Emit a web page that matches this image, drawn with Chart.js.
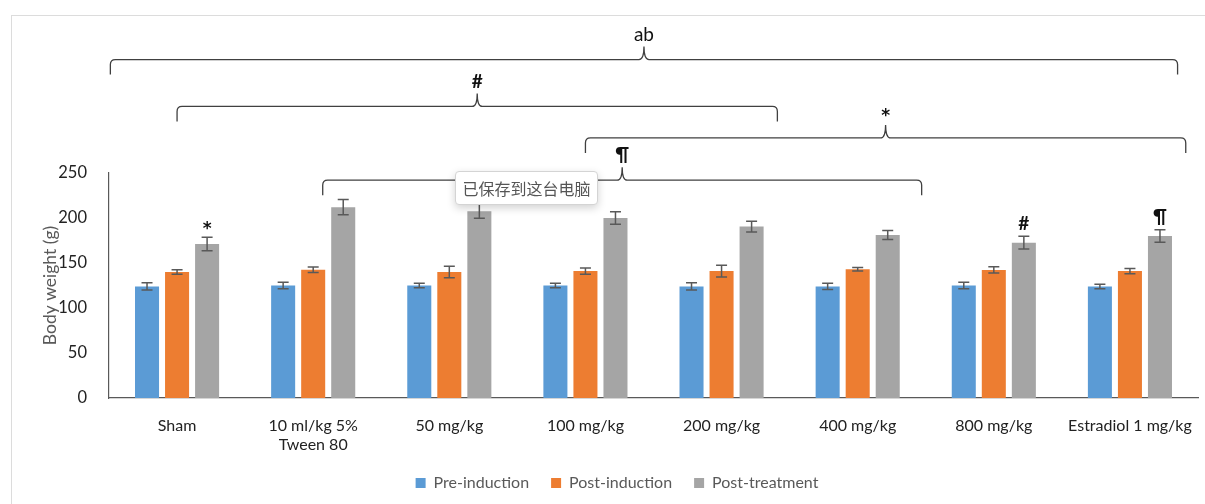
<!DOCTYPE html>
<html>
<head>
<meta charset="utf-8">
<script src="https://cdn.jsdelivr.net/npm/chart.js@4.4.1/dist/chart.umd.min.js"></script>
<style>
  body { margin: 0; background: #fff; }
  #wrap { position: relative; width: 1205px; height: 504px; overflow: hidden; }
  #frame { position: absolute; left: 11px; top: 15px; right: -5px; bottom: -5px;
           border-left: 1px solid #dcdcdc; border-top: 1px solid #dcdcdc; }
  #saved { position: absolute; left: 455px; top: 171px; width: 141px; height: 32px;
           background: #fff; border: 1px solid #d4d4d4; border-radius: 4px;
           box-shadow: 0 3px 8px rgba(0,0,0,0.18);
           font-family: "Noto Sans CJK SC", sans-serif; font-size: 16px; color: #555;
           line-height: 32px; text-align: center; }
  canvas { position: absolute; left: 0; top: 0; }
</style>
</head>
<body>
<div id="wrap">
  <div id="frame"></div>
  <canvas id="myChart" width="1205" height="504"></canvas>
  <div id="saved">已保存到这台电脑</div>
</div>
<script>
const categories = ['Sham', ['10 ml/kg 5%', 'Tween 80'], '50 mg/kg', '100 mg/kg',
                    '200 mg/kg', '400 mg/kg', '800 mg/kg', 'Estradiol 1 mg/kg'];
const preInduction = [124, 125, 125, 125, 124, 124, 125, 124];
const preErr = [4, 3.5, 2.5, 2.5, 4, 3.5, 3.5, 2.5];
const postInduction = [140, 142.5, 140, 141, 141, 143, 142.3, 141];
const postIndErr = [2.5, 3, 6.5, 3.5, 6.5, 2, 3.5, 3];
const postTreatment = [171, 212, 207.6, 200, 190.5, 181, 172.6, 180];
const postTreatErr = [7.5, 8.5, 8, 7, 6, 5, 7, 7];
const topMarks = ['*', '', '', '', '', '', '#', '¶'];

// brackets over the groups: start / end in category units, level in g
const braceLabels = ['ab', '#', '*', '¶'];
const braceStart = [-0.49, 0, 3, 1.07];
const braceEnd = [7.35, 4.41, 7.41, 5.47];
const braceLevel = [376, 324, 289, 242];

const errors = [preErr, postIndErr, postTreatErr];

function markFont(m) {
    // the asterisk in Lato is tiny, DejaVu draws it closer to the original
    return m === '*' ? 'bold 17px "DejaVu Sans"' : 'bold 19px Lato';
}

const overlays = {
    id: 'overlays',
    afterDatasetsDraw(chart) {
        const ctx = chart.ctx;
        const y = chart.scales.y;
        const x = chart.scales.x;
        ctx.save();
        // error bars
        ctx.strokeStyle = '#595959';
        ctx.lineWidth = 1.5;
        chart.data.datasets.forEach((ds, di) => {
            const meta = chart.getDatasetMeta(di);
            meta.data.forEach((bar, i) => {
                const v = ds.data[i], e = errors[di][i];
                const yt = y.getPixelForValue(v + e), yb = y.getPixelForValue(v - e);
                ctx.beginPath();
                ctx.moveTo(bar.x, yt); ctx.lineTo(bar.x, yb);
                ctx.moveTo(bar.x - 5.5, yt); ctx.lineTo(bar.x + 5.5, yt);
                ctx.moveTo(bar.x - 5.5, yb); ctx.lineTo(bar.x + 5.5, yb);
                ctx.stroke();
            });
        });
        // marks above post-treatment bars
        ctx.fillStyle = '#111';
        ctx.textAlign = 'center';
        ctx.textBaseline = 'bottom';
        const meta2 = chart.getDatasetMeta(2);
        topMarks.forEach((m, i) => {
            if (!m) return;
            const bar = meta2.data[i];
            const yt = y.getPixelForValue(postTreatment[i] + postTreatErr[i]);
            ctx.font = markFont(m);
            ctx.fillText(m, bar.x, m === '*' ? yt + 1 : yt - 3);
        });
        // braces
        ctx.strokeStyle = '#404040';
        ctx.lineWidth = 1.3;
        braceLabels.forEach((lab, i) => {
            const x1 = x.getPixelForValue(braceStart[i]);
            const x2 = x.getPixelForValue(braceEnd[i]);
            const xm = (x1 + x2) / 2;
            const yl = y.getPixelForValue(braceLevel[i]);
            ctx.beginPath();
            ctx.moveTo(x1, yl + 15);
            ctx.lineTo(x1, yl + 5);
            ctx.quadraticCurveTo(x1, yl, x1 + 5, yl);
            ctx.lineTo(xm - 5, yl);
            ctx.quadraticCurveTo(xm, yl, xm, yl - 13);
            ctx.quadraticCurveTo(xm, yl, xm + 5, yl);
            ctx.lineTo(x2 - 5, yl);
            ctx.quadraticCurveTo(x2, yl, x2, yl + 5);
            ctx.lineTo(x2, yl + 15);
            ctx.stroke();
            ctx.textBaseline = 'middle';
            ctx.font = lab === 'ab' ? '19px Lato' : markFont(lab);
            ctx.fillText(lab, xm, lab === '*' ? yl - 21 : yl - 25);
        });
        ctx.restore();
    }
};

const ctx = document.getElementById('myChart').getContext('2d');
const myChart = new Chart(ctx, {
    type: 'bar',
    data: {
        labels: categories,
        datasets: [
            { label: 'Pre-induction', data: preInduction, backgroundColor: '#5B9BD5' },
            { label: 'Post-induction', data: postInduction, backgroundColor: '#ED7D31' },
            { label: 'Post-treatment', data: postTreatment, backgroundColor: '#A5A5A5' }
        ]
    },
    options: {
        responsive: false,
        animation: false,
        events: [],
        categoryPercentage: 0.662,
        barPercentage: 0.8,
        layout: { padding: { top: 173, left: 36, right: 7, bottom: 3 } },
        plugins: {
            tooltip: { enabled: false },
            legend: {
                position: 'bottom',
                labels: {
                    boxWidth: 10, boxHeight: 10, padding: 22,
                    color: '#595959', font: { family: 'Lato', size: 16 }
                }
            }
        },
        scales: {
            x: {
                grid: { display: false },
                border: { color: '#595959', width: 1.2 },
                ticks: { color: '#222', padding: 10, maxRotation: 0, autoSkip: false,
                         font: { family: 'Lato', size: 16 } },
                afterFit(scale) { scale.height = 55; }
            },
            y: {
                min: 0, max: 250,
                grid: { display: false },
                border: { color: '#595959', width: 1.2 },
                ticks: { stepSize: 50, color: '#222', padding: 14,
                         font: { family: 'Lato', size: 16.5 } },
                title: { display: true, text: 'Body weight (g)', color: '#595959',
                         padding: 4, font: { family: 'Lato', size: 17.5 } },
                afterFit(scale) { scale.width = 73; }
            }
        }
    },
    plugins: [overlays]
});
</script>
</body>
</html>
